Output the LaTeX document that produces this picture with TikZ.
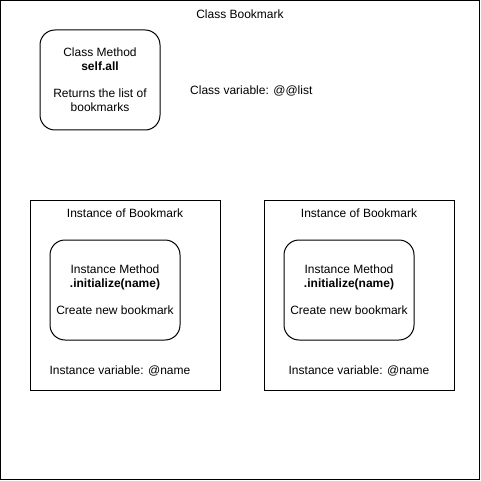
\documentclass[tikz,border=0pt]{standalone}
\usepackage{fontspec}
\setmainfont{Liberation Sans}
\tikzset{>=stealth}
\tikzset{
    txt/.style={font=\fontsize{12}{13.7}\selectfont, inner sep=0pt, align=center},
    methodbox/.style={txt, draw, line width=1pt, rounded corners=15pt, minimum height=100pt},
    objbox/.style={draw, line width=1pt, minimum width=190pt, minimum height=190pt, inner sep=0pt}
}

\begin{document}
\begin{tikzpicture}[x=1pt, y=-1pt]
    \useasboundingbox (0,0) rectangle (481,481);
    \node[draw, line width=1pt, minimum width=479pt, minimum height=479pt, inner sep=0pt] (frame) at (240,240) {};
    \node[txt] (classname) at (240,14) {Class Bookmark};
    \node[methodbox, minimum width=120pt] (classmethod) at (100,80) {Class Method\\\textbf{self.all}\\[13.7pt]Returns the list of\\bookmarks};
    \node[txt, anchor=west] (classvar) at (190,91) {Class variable: @@list};
    \foreach \i/\x/\v in {1/125/120, 2/359/359} {
    \node[objbox] (inst\i) at (\x,295) {};
    \node[txt] (insttitle\i) at (\x,213) {Instance of Bookmark};
    \node[methodbox, minimum width=130pt] (initmethod\i) at (\x-10,290) {Instance Method\\\textbf{.initialize(name)}\\[13.7pt]Create new bookmark};
    \node[txt] (instvar\i) at (\v,371) {Instance variable: @name};
    }
\end{tikzpicture}
\end{document}
